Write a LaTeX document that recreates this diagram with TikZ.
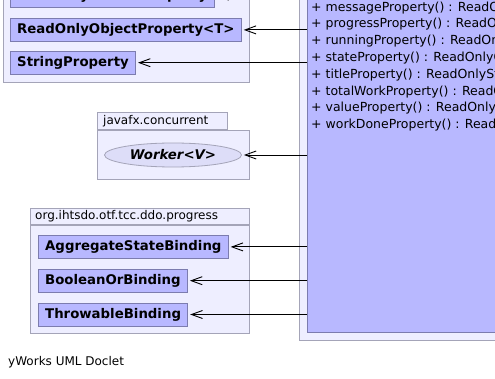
\documentclass[tikz,border=0pt]{standalone}
\usepackage{fontspec}
\setmainfont{DejaVu Sans}
\usetikzlibrary{positioning,shapes.geometric,arrows.meta}
\definecolor{pkgFill}{HTML}{EEEEFF}
\definecolor{pkgLine}{HTML}{A4A4B8}
\definecolor{clsFill}{HTML}{B8B8FF}
\definecolor{clsLine}{HTML}{7C7CAE}
\definecolor{ifaceFill}{HTML}{DDDDF8}

\begin{document}
\begin{tikzpicture}[x=1pt, y=-1pt,
    every node/.style={font=\fontsize{12}{14}\selectfont},
    pkg/.style={draw=pkgLine, fill=pkgFill, line width=0.8pt, inner sep=0pt},
    cls/.style={draw=clsLine, fill=clsFill, line width=0.8pt, inner xsep=6.8pt,
        minimum height=23pt, font=\bfseries\fontsize{13.3}{15}\selectfont},
    dep/.style={-{Straight Barb[length=11pt,width=8pt,line width=0.9pt]}, line width=0.9pt, shorten >=2pt}]
    \useasboundingbox (0,0) rectangle (495,379);
    \clip (0,0) rectangle (495,379);

    % packages
    \node[pkg, anchor=south west, minimum width=246pt, minimum height=160pt] (propPkg) at (3,83) {};
    \node[pkg, anchor=south west, minimum width=130pt, minimum height=17pt] (concTab) at (97,130) {};
    \node[anchor=west, inner sep=0pt] at (concTab.west) [xshift=6pt] {javafx.concurrent};
    \node[pkg, anchor=north west, minimum width=152pt, minimum height=49pt] (concPkg) at (97,130) {};
    \node[pkg, anchor=south west, minimum width=219pt, minimum height=16pt] (progTab) at (30,225) {};
    \node[anchor=west, inner sep=0pt] at (progTab.west) [xshift=5pt] {org.ihtsdo.otf.tcc.ddo.progress};
    \node[pkg, anchor=north west, minimum width=219pt, minimum height=108pt] (progPkg) at (30,225) {};
    \node[pkg, anchor=south west, minimum width=220pt, minimum height=400pt] (taskPkg) at (299,341) {};

    % the task class
    \node[draw=clsLine, fill=clsFill, line width=0.8pt, anchor=south west,
        minimum width=210pt, minimum height=400pt] (taskCls) at (307,333) {};
    \node[anchor=north west, inner sep=0pt, align=left, font=\fontsize{12.5}{16.8}\selectfont] (methods) at (311,1.5)
        {+ messageProperty() : ReadOnlyStringProperty\\
         + progressProperty() : ReadOnlyDoubleProperty\\
         + runningProperty() : ReadOnlyBooleanProperty\\
         + stateProperty() : ReadOnlyObjectProperty\\
         + titleProperty() : ReadOnlyStringProperty\\
         + totalWorkProperty() : ReadOnlyDoubleProperty\\
         + valueProperty() : ReadOnlyObjectProperty\\
         + workDoneProperty() : ReadOnlyDoubleProperty};

    % classes
    \node[cls, anchor=south west] (dblProp) at (10,8) {ReadOnlyDoubleProperty};
    \node[cls, below=10pt of dblProp.south west, anchor=north west] (objProp) {ReadOnlyObjectProperty<T>};
    \node[cls, below=9pt of objProp.south west, anchor=north west] (strProp) {StringProperty};
    \node[ellipse, draw=pkgLine, fill=ifaceFill, line width=0.8pt, minimum width=137pt, minimum height=24pt,
        font=\bfseries\itshape\fontsize{13.3}{15}\selectfont] (worker) at (173,155) {Worker<V>};
    \node[cls, anchor=north west] (aggBind) at (38,235) {AggregateStateBinding};
    \node[cls, below=10pt of aggBind.south west, anchor=north west] (boolBind) {BooleanOrBinding};
    \node[cls, below=10pt of boolBind.south west, anchor=north west] (throwBind) {ThrowableBinding};

    % dependencies
    \draw[dep] (taskCls.west |- dblProp.east) -- (dblProp.east);
    \draw[dep] (taskCls.west |- objProp.east) -- (objProp.east);
    \draw[dep] (taskCls.west |- strProp.east) -- (strProp.east);
    \draw[dep] (taskCls.west |- worker.east) -- (worker.east);
    \draw[dep] (taskCls.west |- aggBind.east) -- (aggBind.east);
    \draw[dep] (taskCls.west |- boolBind.east) -- (boolBind.east);
    \draw[dep] (taskCls.west |- throwBind.east) -- (throwBind.east);

    \node[anchor=west, inner sep=0pt] (credit) at (8,362) {yWorks UML Doclet};
\end{tikzpicture}
\end{document}
